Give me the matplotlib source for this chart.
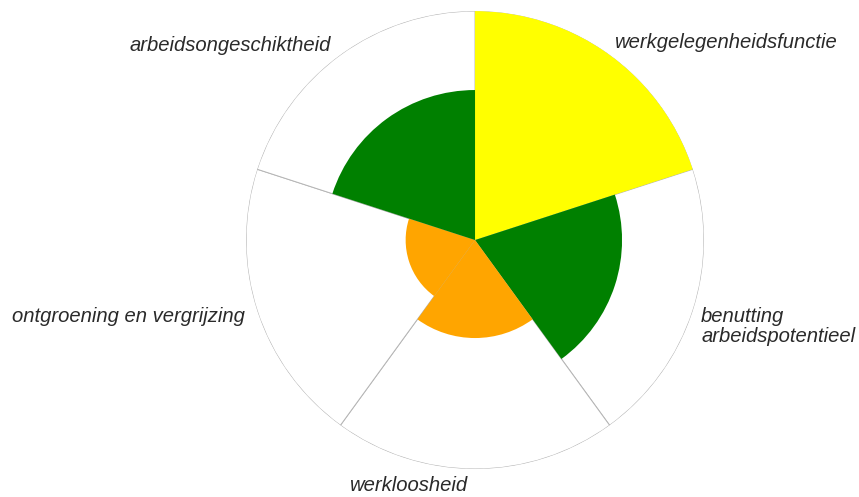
import numpy as np
import matplotlib.pyplot as plt

# polar area chart: one sector per indicator
labels = ["werkgelegenheidsfunctie", "benutting\narbeidspotentieel", "werkloosheid",
          "ontgroening en vergrijzing", "arbeidsongeschiktheid"]
scores = [10.0, 6.42, 4.28, 3.03, 6.55]
colors = ["#ffff00", "#008000", "#ffa500", "#ffa500", "#008000"]
max_score = 10.0

# label placement (angle clockwise from north, radius as fraction of max, alignment)
label_theta = [36.1, 114.3, 181.6, 250.4, 322.7]
label_r = [1.038, 1.083, 1.096, 1.066, 1.038]
label_ha = ["left", "left", "right", "right", "right"]

plt.rcParams['font.family'] = ['Liberation Sans', 'DejaVu Sans']

fig = plt.figure(figsize=(8.59, 4.97), dpi=100)
ax = fig.add_axes([0.2864, 0.0563, 0.5332, 0.9215], projection="polar")
ax.set_theta_zero_location("N")
ax.set_theta_direction(-1)

n = len(scores)
width = 2 * np.pi / n
theta = np.arange(n) * width

# white full-size sectors give the outer circle and the spokes
ax.bar(theta, [max_score] * n, width=width, align="edge", color="white",
       edgecolor="#b5b5b5", linewidth=0.7, zorder=1)
ax.bar(theta, scores, width=width, align="edge", color=colors, linewidth=0, zorder=2)
ax.set_ylim(0, max_score)
ax.axis("off")

for lab, th, r, ha in zip(labels, label_theta, label_r, label_ha):
    ax.text(np.deg2rad(th), r * max_score, lab, ha=ha, va="baseline",
            fontsize=14.6, style="italic", color="#2a2a2a", linespacing=1.1)

fig.savefig("out.png", dpi=100)
